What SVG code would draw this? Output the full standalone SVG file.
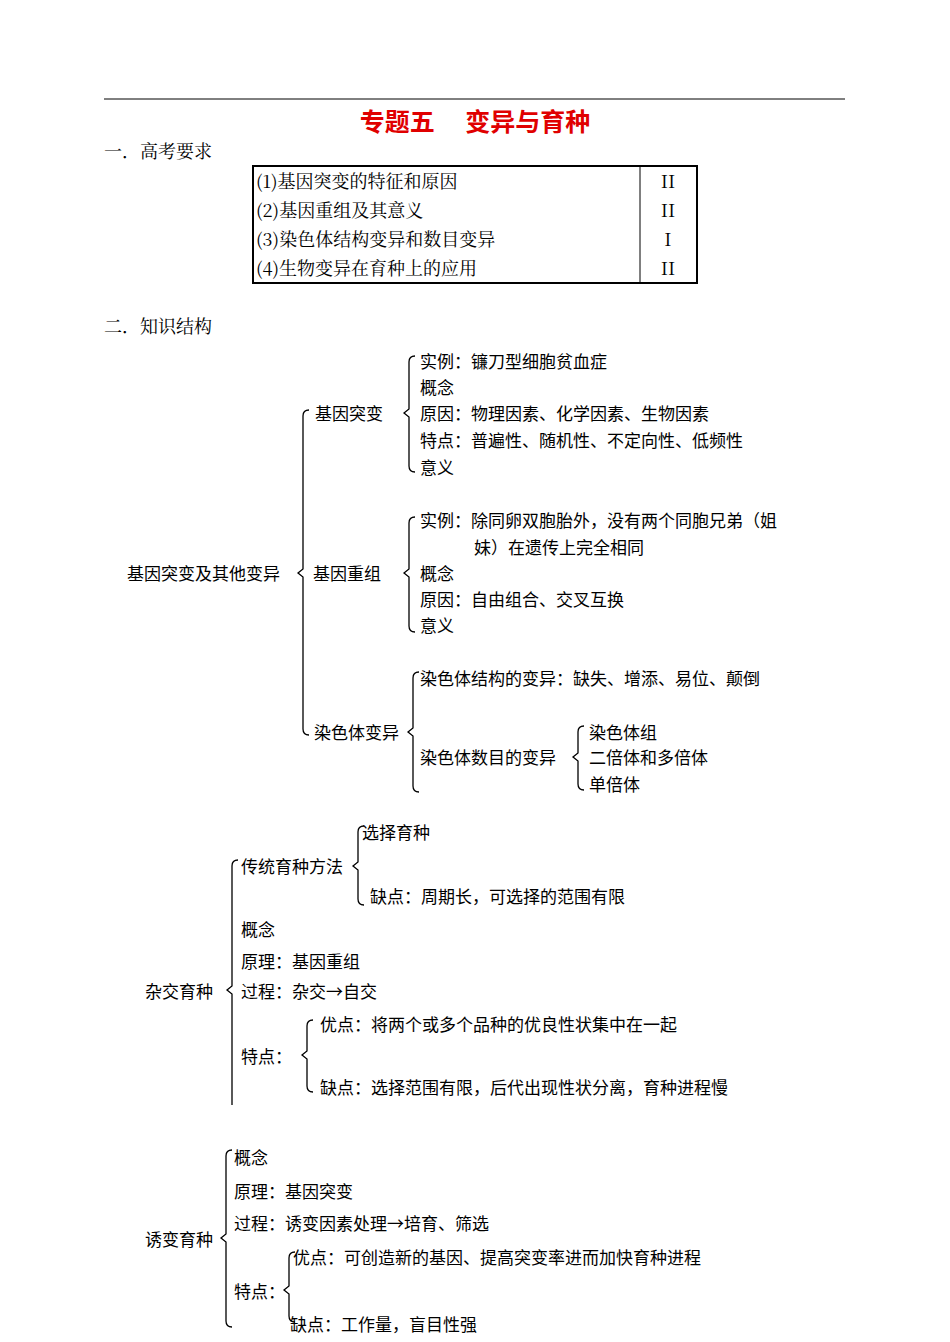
<svg xmlns="http://www.w3.org/2000/svg" width="950" height="1342" viewBox="0 0 950 1342">
<style>
text{font-family:"Noto Sans CJK SC","Liberation Sans",sans-serif;font-size:17px;fill:#000}
.s{font-family:"Noto Serif CJK SC","Noto Sans CJK SC",serif;font-size:18px}
.b{fill:none;stroke:#000;stroke-width:1.3}
</style>
<rect width="950" height="1342" fill="#fff"/>
<line x1="104" y1="99" x2="845" y2="99" stroke="#000"/>
<text x="475" y="131" text-anchor="middle" style="font-size:25px;font-weight:bold;fill:#e00000">专题五　  变异与育种</text>
<text x="104" y="158" class="s">一．高考要求</text>
<g id="table">
<rect x="253" y="166" width="444" height="117" fill="none" stroke="#000" stroke-width="2"/>
<line x1="640" y1="166" x2="640" y2="283" stroke="#000"/>
<text x="256" y="188" class="s">(1)基因突变的特征和原因</text>
<text x="256" y="217" class="s">(2)基因重组及其意义</text>
<text x="256" y="246" class="s">(3)染色体结构变异和数目变异</text>
<text x="256" y="275" class="s">(4)生物变异在育种上的应用</text>
<text x="668" y="188" class="s" text-anchor="middle">II</text>
<text x="668" y="217" class="s" text-anchor="middle">II</text>
<text x="668" y="246" class="s" text-anchor="middle">I</text>
<text x="668" y="275" class="s" text-anchor="middle">II</text>
</g>
<text x="104" y="333" class="s">二．知识结构</text>
<g id="connectors">
<path class="b" d="M309 410 Q303 410 303 416 L303 569 L298 573 L303 577 L303 729 Q303 735 309 735"/>
<path class="b" d="M415 356 Q409 356 409 362 L409 409 L404 413 L409 417 L409 466 Q409 472 415 472"/>
<path class="b" d="M415 517 Q409 517 409 523 L409 569 L404 573 L409 577 L409 626 Q409 632 415 632"/>
<path class="b" d="M419 672 Q413 672 413 678 L413 728 L408 732 L413 736 L413 786 Q413 792 419 792"/>
<path class="b" d="M584 726 Q578 726 578 732 L578 753 L573 757 L578 761 L578 784 Q578 790 584 790"/>
<path class="b" d="M238 860 Q232 860 232 866 L232 986 L227 990 L232 994 L232 1105"/>
<path class="b" d="M364 826 Q358 826 358 832 L358 862 L353 866 L358 870 L358 899 Q358 905 364 905"/>
<path class="b" d="M313 1020 Q307 1020 307 1026 L307 1051 L302 1055 L307 1059 L307 1086 Q307 1092 313 1092"/>
<path class="b" d="M232 1150 Q226 1150 226 1156 L226 1234 L221 1238 L226 1242 L226 1321 Q226 1327 232 1327"/>
<path class="b" d="M295 1252 Q289 1252 289 1258 L289 1286 L284 1290 L289 1294 L289 1316 Q289 1322 295 1322"/>
</g>
<g id="n-root"><text x="127" y="580">基因突变及其他变异</text></g>
<g id="n-jytb"><text x="315" y="420">基因突变</text></g>
<g id="n-jytb-items">
<text x="420" y="368">实例：镰刀型细胞贫血症</text>
<text x="420" y="394">概念</text>
<text x="420" y="420">原因：物理因素、化学因素、生物因素</text>
<text x="420" y="447">特点：普遍性、随机性、不定向性、低频性</text>
<text x="420" y="474">意义</text>
</g>
<g id="n-jycz"><text x="313" y="580">基因重组</text></g>
<g id="n-jycz-items">
<text x="420" y="527">实例：除同卵双胞胎外，没有两个同胞兄弟（姐</text>
<text x="474" y="554">妹）在遗传上完全相同</text>
<text x="420" y="580">概念</text>
<text x="420" y="606">原因：自由组合、交叉互换</text>
<text x="420" y="632">意义</text>
</g>
<g id="n-rst"><text x="314" y="739">染色体变异</text></g>
<g id="n-rst-items">
<text x="420" y="685">染色体结构的变异：缺失、增添、易位、颠倒</text>
<text x="420" y="764">染色体数目的变异</text>
<text x="589" y="739">染色体组</text>
<text x="589" y="764">二倍体和多倍体</text>
<text x="589" y="791">单倍体</text>
</g>
<g id="n-zjyz"><text x="145" y="998">杂交育种</text></g>
<g id="n-zjyz-items">
<text x="241" y="873">传统育种方法</text>
<text x="362" y="839">选择育种</text>
<text x="370" y="903">缺点：周期长，可选择的范围有限</text>
<text x="241" y="936">概念</text>
<text x="241" y="968">原理：基因重组</text>
<text x="241" y="998">过程：杂交→自交</text>
<text x="241" y="1063">特点：</text>
<text x="320" y="1031">优点：将两个或多个品种的优良性状集中在一起</text>
<text x="320" y="1094">缺点：选择范围有限，后代出现性状分离，育种进程慢</text>
</g>
<g id="n-ybyz"><text x="145" y="1246">诱变育种</text></g>
<g id="n-ybyz-items">
<text x="234" y="1164">概念</text>
<text x="234" y="1198">原理：基因突变</text>
<text x="234" y="1230">过程：诱变因素处理→培育、筛选</text>
<text x="234" y="1298">特点：</text>
<text x="293" y="1264">优点：可创造新的基因、提高突变率进而加快育种进程</text>
<text x="290" y="1331">缺点：工作量，盲目性强</text>
</g>
</svg>
